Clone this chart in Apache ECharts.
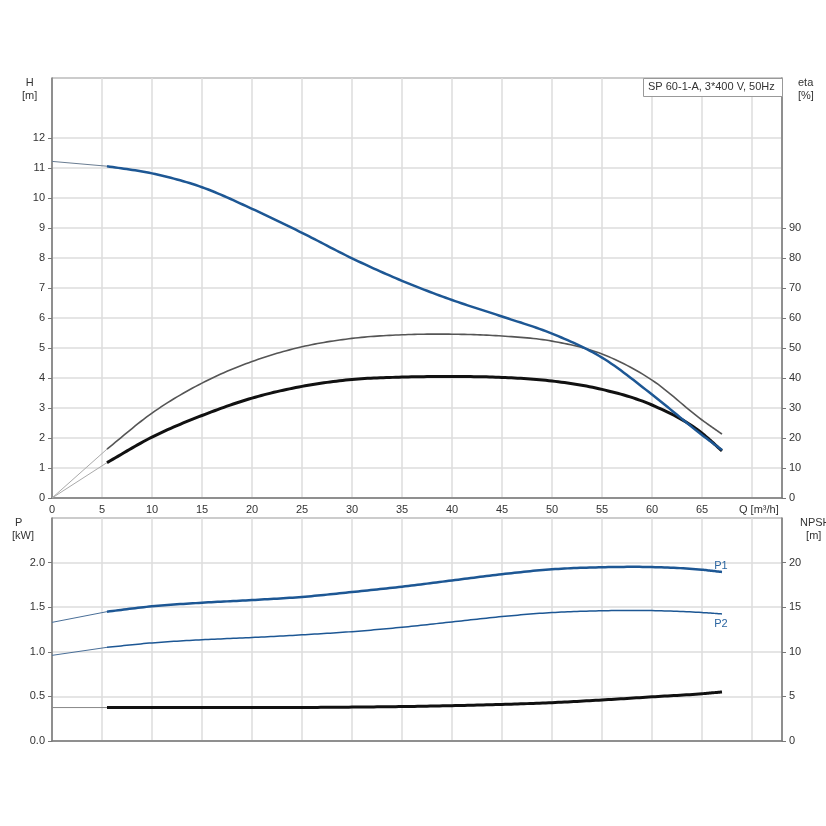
<!DOCTYPE html>
<html><head><meta charset="utf-8">
<script src="https://cdn.jsdelivr.net/npm/echarts@6/dist/echarts.min.js"></script>
<style>html,body{margin:0;padding:0;background:#fff}#c{width:826px;height:826px}</style>
</head><body><div id="c"></div>
<script>
// flow Q [m3/h]
const qExt = [0, 5.5];
const qMain = [5.5, 10, 15, 20, 25, 30, 35, 40, 45, 50, 55, 60, 65, 67];
// head H [m]
const headExt = [11.22, 11.06];
const headMain = [11.06, 10.82, 10.36, 9.64, 8.84, 7.99, 7.24, 6.6, 6.05, 5.48, 4.68, 3.45, 2.1, 1.6];
// efficiency eta [%]
const etaTotExt = [0, 16.3];
const etaTotMain = [16.3, 28.3, 38.3, 45.5, 50.4, 53.2, 54.4, 54.6, 54, 52.3, 48, 39.3, 26, 21.3];
const etaPumpExt = [0, 11.8];
const etaPumpMain = [11.8, 20.3, 27.5, 33.3, 37.2, 39.5, 40.3, 40.5, 40.2, 39, 36.2, 31, 21.6, 15.7];
// power P [kW]
const p1Ext = [1.33, 1.45];
const p1Main = [1.45, 1.51, 1.55, 1.58, 1.615, 1.67, 1.73, 1.80, 1.87, 1.925, 1.948, 1.95, 1.92, 1.895];
const p2Ext = [0.96, 1.05];
const p2Main = [1.05, 1.10, 1.135, 1.16, 1.19, 1.226, 1.275, 1.335, 1.395, 1.44, 1.46, 1.462, 1.44, 1.425];
// NPSH [m]
const npshExt = [3.75, 3.75];
const npshMain = [3.75, 3.75, 3.75, 3.75, 3.76, 3.8, 3.86, 3.96, 4.1, 4.3, 4.6, 4.95, 5.3, 5.5];
// axis tick labels
const qTicks = [0, 5, 10, 15, 20, 25, 30, 35, 40, 45, 50, 55, 60, 65];
const hTicks = [0, 1, 2, 3, 4, 5, 6, 7, 8, 9, 10, 11, 12];
const etaTicks = [0, 10, 20, 30, 40, 50, 60, 70, 80, 90];
const pTicks = [0, 0.5, 1.0, 1.5, 2.0];
const npshTicks = [0, 5, 10, 15, 20];
const title = 'SP 60-1-A, 3*400 V, 50Hz';

const zip = (xs, ys) => xs.map((x, i) => [x, ys[i]]);
const FONT = 'Liberation Sans, Arial, sans-serif';
const txt = '#333';
const gridCol = '#dcdcdc';
const axisCol = '#777';
const blue = '#1d5794';

function xAxis(gi, showLabels) {
  return {
    type: 'value', gridIndex: gi, min: 0, max: 73, interval: 5,
    axisLine: { show: true, onZero: false, lineStyle: { color: axisCol, width: 1.5 } },
    axisTick: { show: false },
    axisLabel: {
      show: showLabels, color: txt, fontSize: 11, fontFamily: FONT, margin: 6,
      customValues: qTicks
    },
    splitLine: { show: true, lineStyle: { color: gridCol, width: 1.5 } }
  };
}
function yAxis(gi, pos, min, max, interval, ticks, dec, split) {
  return {
    type: 'value', gridIndex: gi, position: pos, min, max, interval,
    axisLine: { show: true, lineStyle: { color: axisCol, width: 1.5 } },
    axisTick: { show: true, length: 4, lineStyle: { color: axisCol }, customValues: ticks },
    axisLabel: {
      color: txt, fontSize: 11, fontFamily: FONT, margin: 7, customValues: ticks,
      formatter: v => v.toFixed(dec)
    },
    splitLine: { show: split, lineStyle: { color: gridCol, width: 1.5 } }
  };
}

// smooth curve (cubic Hermite in x) through the pixel points given by the axes
function splinePoints(p) {
  const n = p.length;
  if (n < 3) return p;
  const d = [], h = [];
  for (let i = 0; i < n - 1; i++) {
    h.push(p[i + 1][0] - p[i][0]);
    d.push((p[i + 1][1] - p[i][1]) / h[i]);
  }
  const m = [d[0]];
  for (let i = 1; i < n - 1; i++) m.push((h[i] * d[i - 1] + h[i - 1] * d[i]) / (h[i - 1] + h[i]));
  m.push(d[n - 2]);
  const out = [];
  for (let i = 0; i < n - 1; i++) {
    const steps = 16;
    for (let s = 0; s < steps; s++) {
      const t = s / steps, t2 = t * t, t3 = t2 * t;
      const h00 = 2 * t3 - 3 * t2 + 1, h10 = t3 - 2 * t2 + t, h01 = -2 * t3 + 3 * t2, h11 = t3 - t2;
      out.push([p[i][0] + h[i] * t,
        h00 * p[i][1] + h10 * h[i] * m[i] + h01 * p[i + 1][1] + h11 * h[i] * m[i + 1]]);
    }
  }
  out.push(p[n - 1]);
  return out;
}
function curve(data, xi, yi, color, width, label, labelDy) {
  return {
    type: 'custom', xAxisIndex: xi, yAxisIndex: yi, data, silent: true, z: 3,
    renderItem: (params, api) => {
      if (params.dataIndex !== 0) return null;
      const px = data.map(d => api.coord(d));
      const children = [{
        type: 'polyline', shape: { points: splinePoints(px) },
        style: { stroke: color, lineWidth: width, fill: null, lineJoin: 'round', lineCap: 'butt' }
      }];
      if (label) {
        const last = px[px.length - 1];
        children.push({ type: 'text', x: last[0] - 1, y: last[1] + labelDy,
          style: { text: label, fill: '#2b65a0', font: '11px ' + FONT, textAlign: 'center', textVerticalAlign: 'middle' } });
      }
      return { type: 'group', children };
    }
  };
}
const option = {
  animation: false,
  backgroundColor: '#fff',
  grid: [
    { left: 52, right: 44, top: 78, height: 420, show: true, borderColor: '#999', borderWidth: 1 },
    { left: 52, right: 44, top: 518, height: 223, show: true, borderColor: '#999', borderWidth: 1 }
  ],
  xAxis: [xAxis(0, true), xAxis(1, false)],
  yAxis: [
    yAxis(0, 'left', 0, 14, 1, hTicks, 0, true),
    yAxis(0, 'right', 0, 140, 10, etaTicks, 0, false),
    yAxis(1, 'left', 0, 2.5, 0.5, pTicks, 1, true),
    yAxis(1, 'right', 0, 25, 5, npshTicks, 0, false)
  ],
  series: [
    curve(zip(qExt, etaTotExt), 0, 1, '#aaa', 1),
    curve(zip(qExt, etaPumpExt), 0, 1, '#aaa', 1),
    curve(zip(qMain, etaTotMain), 0, 1, '#555', 1.6),
    curve(zip(qMain, etaPumpMain), 0, 1, '#111', 3),
    curve(zip(qExt, headExt), 0, 0, '#6a7d92', 1),
    curve(zip(qMain, headMain), 0, 0, blue, 2.5),
    curve(zip(qExt, p1Ext), 1, 2, '#4a6f98', 1),
    curve(zip(qMain, p1Main), 1, 2, blue, 2.5, 'P1', -6),
    curve(zip(qExt, p2Ext), 1, 2, '#4a6f98', 1),
    curve(zip(qMain, p2Main), 1, 2, blue, 1.5, 'P2', 10),
    curve(zip(qExt, npshExt), 1, 3, '#888', 1),
    curve(zip(qMain, npshMain), 1, 3, '#111', 3)
  ],
  graphic: [
    { type: 'text', left: 22, top: 76, style: { text: 'H\n[m]', fill: txt, font: '11px ' + FONT, textAlign: 'center', lineHeight: 13 } },
    { type: 'text', left: 798, top: 76, style: { text: 'eta\n[%]', fill: txt, font: '11px ' + FONT, lineHeight: 13 } },
    { type: 'text', left: 12, top: 516, style: { text: ' P\n[kW]', fill: txt, font: '11px ' + FONT, lineHeight: 13 } },
    { type: 'text', left: 800, top: 516, style: { text: 'NPSH\n  [m]', fill: txt, font: '11px ' + FONT, lineHeight: 13 } },
    { type: 'text', left: 739, top: 504, style: { text: 'Q [m³/h]', fill: txt, font: '11px ' + FONT } },
    { type: 'rect', shape: { x: 643.5, y: 78.5, width: 139, height: 18 }, style: { fill: '#fff', stroke: '#999', lineWidth: 1 }, z: 10 },
    { type: 'text', left: 648, top: 81, z: 11, style: { text: title, fill: txt, font: '11px ' + FONT } }
  ]
};
echarts.init(document.getElementById('c'), null, { renderer: 'canvas' }).setOption(option);
</script>
</body></html>
